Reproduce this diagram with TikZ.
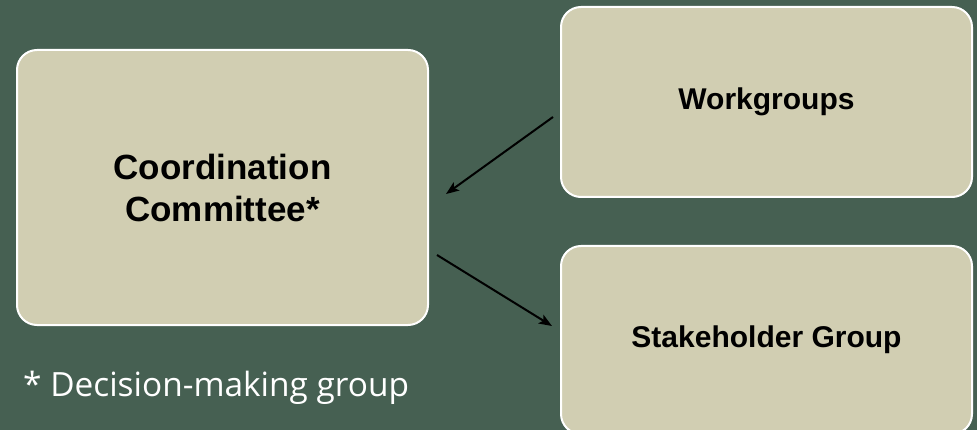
\documentclass[tikz,border=0pt]{standalone}
\usepackage{fontspec}
\setmainfont{Liberation Sans}
\newfontfamily\notefont{Open Sans}
\usetikzlibrary{arrows.meta}
\definecolor{bggreen}{RGB}{70,96,82}
\definecolor{boxfill}{RGB}{209,206,178}
\begin{document}
\begin{tikzpicture}[x=1pt,y=-1pt,
  boxstyle/.style={draw=white,line width=2pt,fill=boxfill,rounded corners=20pt,
    inner sep=0pt,align=center,font=\bfseries\fontsize{30}{36}\selectfont,text=black},
  linkarrow/.style={draw=black,line width=2pt,-{Stealth[length=13pt,width=10pt,inset=3pt]}}]
\path[use as bounding box,fill=bggreen] (0,0) rectangle (977,430);
\begin{scope}
\clip (0,0) rectangle (977,430);
\node[boxstyle,minimum width=411pt,minimum height=275pt,
  font=\bfseries\fontsize{35}{42}\selectfont] (cc) at (222.5,187.5) {Coordination\\Committee*};
\node[boxstyle,minimum width=411pt,minimum height=190pt] (wg) at (766.5,102) {Workgroups};
\node[boxstyle,minimum width=411pt,minimum height=188pt] (sg) at (766.5,340) {Stakeholder Group};
\end{scope}
\coordinate (a1s) at (553,117);
\coordinate (a1e) at (446,194);
\coordinate (a2s) at (437,255);
\coordinate (a2e) at (552,326);
\draw[linkarrow] (a1s) -- (a1e);
\draw[linkarrow] (a2s) -- (a2e);
\node[anchor=base west,inner sep=0pt,text=white,font=\notefont\fontsize{33.4}{38}\selectfont] (note) at (23,396) {* Decision-making group};
\end{tikzpicture}
\end{document}
